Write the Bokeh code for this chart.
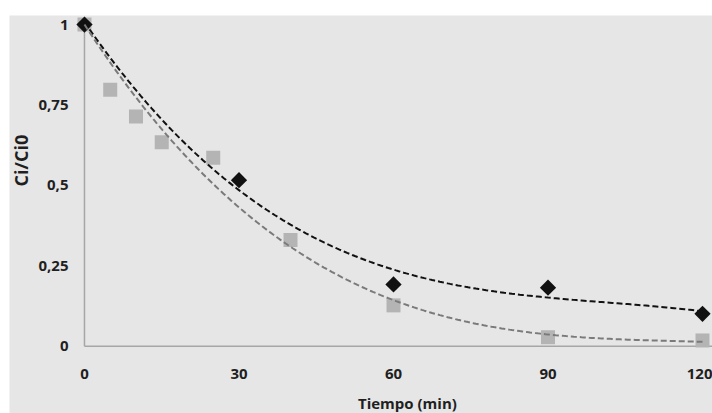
import math
import numpy as np
from bokeh.plotting import figure
from bokeh.models import Range1d, FixedTicker, CustomJSTickFormatter, Label, Spacer
from bokeh.layouts import column, row
from bokeh.embed import file_html
from bokeh.resources import INLINE

# data
x_black = [0, 30, 60, 90, 120]
y_black = [1.0, 0.516, 0.192, 0.182, 0.101]
x_gray = [0, 5, 10, 15, 25, 40, 60, 90, 120]
y_gray = [1.0, 0.797, 0.714, 0.634, 0.586, 0.330, 0.127, 0.028, 0.018]
x_ticks = [0, 30, 60, 90, 120]
y_ticks = [0, 0.25, 0.5, 0.75, 1]
x_title = "Tiempo (min)"
y_title = "Ci/Ci0"

FONT = "Open Sans"
TXT = "#1f1f1f"
BG = "#e6e6e6"

p = figure(width=703, height=398, output_backend="svg", toolbar_location=None,
           x_range=Range1d(-14.56, 121.94), y_range=Range1d(-0.209, 1.028),
           min_border=0)
p.background_fill_color = BG
p.border_fill_color = BG
p.outline_line_color = None
p.grid.visible = False

for ax in (p.xaxis, p.yaxis):
    ax.fixed_location = 0
    ax.axis_line_color = None
    ax.major_tick_line_color = None
    ax.minor_tick_line_color = None
    ax.major_tick_out = 0
    ax.major_tick_in = 0
    ax.major_label_text_font = FONT
    ax.major_label_text_font_style = "bold"
    ax.major_label_text_font_size = "15px"
    ax.major_label_text_color = TXT
p.xaxis.ticker = FixedTicker(ticks=x_ticks)
p.yaxis.ticker = FixedTicker(ticks=y_ticks)
p.xaxis.major_label_standoff = 23
p.yaxis.major_label_standoff = 16
p.yaxis.formatter = CustomJSTickFormatter(code="return tick.toString().replace('.', ',');")

# axis lines at x=0 and y=0
AX = "#a6a6a6"
p.segment(x0=[x_ticks[0]], y0=[y_ticks[0]], x1=[x_ticks[0]], y1=[y_ticks[-1]],
          line_color=AX, line_width=1.5)
p.segment(x0=[x_ticks[0]], y0=[y_ticks[0]], x1=[p.x_range.end], y1=[y_ticks[0]],
          line_color=AX, line_width=1.5)

p.scatter(x_gray, y_gray, marker="square", size=14, fill_color="#b4b4b4", line_color=None)
p.scatter(x_black, y_black, marker="square", size=11.5, angle=math.pi / 4,
          fill_color="#111111", line_color=None)

# trend lines: cubic least-squares fits (gray with the intercept held at its first value)
xs = np.linspace(0, 120, 241)
cb = np.polyfit(x_black, y_black, 3)
xg = np.array(x_gray, dtype=float)
yg = np.array(y_gray, dtype=float)
A = np.vstack([xg, xg ** 2, xg ** 3]).T
coef, *_ = np.linalg.lstsq(A, yg - yg[0], rcond=None)
yg_fit = yg[0] + coef[0] * xs + coef[1] * xs ** 2 + coef[2] * xs ** 3
p.line(xs, np.polyval(cb, xs), line_color="#111111", line_width=2, line_dash="6 3")
p.line(xs, yg_fit, line_color="#7a7a7a", line_width=2, line_dash="6 3")

p.add_layout(Label(x=-12.4, y=0.577, text=y_title, angle=math.pi / 2,
                   text_align="center", text_baseline="middle",
                   text_font=FONT, text_font_style="bold", text_font_size="18px",
                   text_color=TXT))
p.add_layout(Label(x=62.7, y=-0.177, text=x_title,
                   text_align="center", text_baseline="middle",
                   text_font=FONT, text_font_style="bold", text_font_size="15px",
                   text_color=TXT))

layout = column(Spacer(width=712, height=15), row(Spacer(width=9, height=398), p))
open("out.html", "w").write(file_html(layout, INLINE))
